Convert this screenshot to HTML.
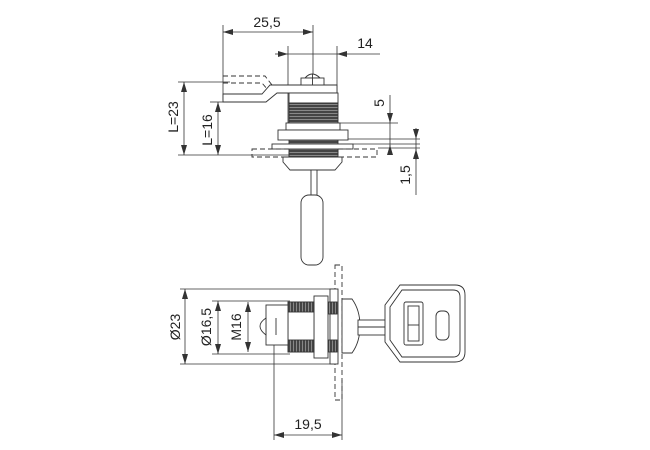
<!DOCTYPE html>
<html><head><meta charset="utf-8"><style>
html,body{margin:0;padding:0;background:#fff;}
svg{display:block}
text{font-family:"Liberation Sans",sans-serif;font-size:14px;fill:#222}
</style></head><body>
<svg width="650" height="450" viewBox="0 0 650 450" xmlns="http://www.w3.org/2000/svg">
<defs>
<marker id="a" viewBox="0 0 10 6" refX="10" refY="3" markerWidth="10" markerHeight="6" orient="auto-start-reverse" markerUnits="userSpaceOnUse"><path d="M0,0 L10,3 L0,6 z" fill="#333"/></marker>
<pattern id="th" width="4" height="3" patternUnits="userSpaceOnUse"><rect width="4" height="3" fill="#444"/><rect y="2" width="4" height="0.8" fill="#999"/></pattern>
<pattern id="tv" width="3" height="4" patternUnits="userSpaceOnUse"><rect width="3" height="4" fill="#444"/><rect x="2" width="0.8" height="4" fill="#999"/></pattern>
</defs>
<g stroke="#333" stroke-width="0.8" fill="none">
<line x1="223" y1="25" x2="223" y2="100"/>
<line x1="313" y1="25" x2="313" y2="85"/>
<line x1="223" y1="32" x2="313" y2="32" marker-start="url(#a)" marker-end="url(#a)"/>
<line x1="288" y1="46" x2="288" y2="130"/>
<line x1="337" y1="46" x2="337" y2="130"/>
<line x1="275" y1="54" x2="288" y2="54" marker-end="url(#a)"/>
<line x1="288" y1="54" x2="337" y2="54"/>
<line x1="350" y1="54" x2="337" y2="54" marker-end="url(#a)"/>
<line x1="350" y1="54" x2="380" y2="54"/>
<line x1="178" y1="82" x2="230" y2="82"/>
<line x1="178" y1="155" x2="290" y2="155"/>
<line x1="184" y1="82" x2="184" y2="155" marker-start="url(#a)" marker-end="url(#a)"/>
<line x1="210" y1="102" x2="223" y2="102"/>
<line x1="218" y1="102" x2="218" y2="155" marker-start="url(#a)" marker-end="url(#a)"/>
<line x1="338" y1="123" x2="398" y2="123"/>
<line x1="348" y1="139" x2="420" y2="139"/>
<line x1="353" y1="144" x2="420" y2="144"/>
<line x1="378" y1="148" x2="420" y2="148"/>
<line x1="390" y1="95" x2="390" y2="123" marker-end="url(#a)"/>
<line x1="390" y1="123" x2="390" y2="155"/>
<line x1="390" y1="155" x2="390" y2="145" marker-end="url(#a)"/>
<line x1="416" y1="128" x2="416" y2="139" marker-end="url(#a)"/>
<line x1="416" y1="139" x2="416" y2="195"/>
<line x1="416" y1="160" x2="416" y2="149" marker-end="url(#a)"/>
</g>
<text x="267" y="27" text-anchor="middle">25,5</text>
<text x="365" y="48" text-anchor="middle">14</text>
<text transform="translate(178,117) rotate(-90)" text-anchor="middle">L=23</text>
<text transform="translate(212,130) rotate(-90)" text-anchor="middle">L=16</text>
<text transform="translate(384,103) rotate(-90)" text-anchor="middle">5</text>
<text transform="translate(410,175) rotate(-90)" text-anchor="middle">1,5</text>

<g stroke="#333" stroke-width="0.9" fill="#fff">
<path d="M223,76 L265,76 L272,85 M223,83 L262,83 L268,90" stroke-dasharray="5,3" fill="none"/>
<path d="M223,94 L262,94 L270,85 L337,85 L337,93 L277,93 L266,102 L223,102 Z"/>
<path d="M305,78 Q312,70 320,78 Z"/>
<rect x="301" y="78" width="23" height="7"/>
<line x1="312.5" y1="74" x2="312.5" y2="85"/>
<rect x="289" y="93" width="49" height="10"/>
<rect x="289" y="103" width="49" height="20" fill="url(#th)"/>
<rect x="289" y="140" width="49" height="17" fill="url(#th)"/>
<rect x="286" y="123" width="54" height="7"/>
<rect x="278" y="130" width="70" height="10"/>
<rect x="272" y="144" width="81" height="5"/>
<rect x="252" y="149" width="37" height="8" stroke-dasharray="5,3" fill="none"/>
<rect x="338" y="149" width="39" height="8" stroke-dasharray="5,3" fill="none"/>
<path d="M283,157 L342,157 L342,162 L335,170 L290,170 L283,162 Z"/>
<rect x="311" y="170" width="6" height="28"/>
<rect x="301" y="195" width="22" height="70" rx="8"/>
</g>

<g stroke="#333" stroke-width="0.8" fill="none">
<line x1="180" y1="289" x2="335" y2="289"/>
<line x1="180" y1="364" x2="335" y2="364"/>
<line x1="185" y1="289" x2="185" y2="364" marker-start="url(#a)" marker-end="url(#a)"/>
<line x1="212" y1="301" x2="290" y2="301"/>
<line x1="212" y1="354" x2="290" y2="354"/>
<line x1="218" y1="301" x2="218" y2="354" marker-start="url(#a)" marker-end="url(#a)"/>
<line x1="248" y1="302" x2="248" y2="352" marker-start="url(#a)" marker-end="url(#a)"/>
<line x1="274" y1="320" x2="274" y2="440"/>
<line x1="342" y1="380" x2="342" y2="440"/>
<line x1="274" y1="435" x2="342" y2="435" marker-start="url(#a)" marker-end="url(#a)"/>
</g>
<text transform="translate(180,327) rotate(-90)" text-anchor="middle">Ø23</text>
<text transform="translate(211,327) rotate(-90)" text-anchor="middle">Ø16,5</text>
<text transform="translate(241,327) rotate(-90)" text-anchor="middle">M16</text>
<text x="308" y="429" text-anchor="middle">19,5</text>

<g stroke="#333" stroke-width="0.9" fill="#fff">
<rect x="335" y="265" width="7" height="135" stroke-dasharray="5,3" fill="none"/>
<rect x="330" y="289" width="8" height="75"/>
<rect x="314" y="296" width="14" height="62"/>
<rect x="288" y="302" width="26" height="50"/>
<rect x="288" y="302" width="26" height="10" fill="url(#tv)"/>
<rect x="288" y="340" width="26" height="12" fill="url(#tv)"/>
<rect x="328" y="302" width="9" height="12" fill="url(#tv)"/>
<rect x="328" y="340" width="9" height="12" fill="url(#tv)"/>
<rect x="266" y="305" width="22" height="40"/>
<line x1="276" y1="318" x2="276" y2="335"/>
<path d="M266,318 Q254,326 266,335 Z"/>
<path d="M342,299 L352,299 Q360,310 360,326 Q360,342 352,353 L342,353 Z"/>
<rect x="358" y="320" width="30" height="15"/>
<line x1="358" y1="327" x2="388" y2="327"/>
<path d="M400,285 L455,285 Q465,285 465,295 L465,352 Q465,362 455,362 L400,362 L385,342 L385,305 Z"/>
<path d="M402,290 L453,290 Q460,290 460,297 L460,350 Q460,357 453,357 L402,357 L390,340 L390,307 Z"/>
<rect x="404" y="302" width="19" height="43" rx="2"/>
<rect x="408" y="306" width="11" height="35"/>
<line x1="408" y1="325" x2="419" y2="325"/>
<rect x="436" y="311" width="13" height="29" rx="5"/>
</g>
</svg>
</body></html>
